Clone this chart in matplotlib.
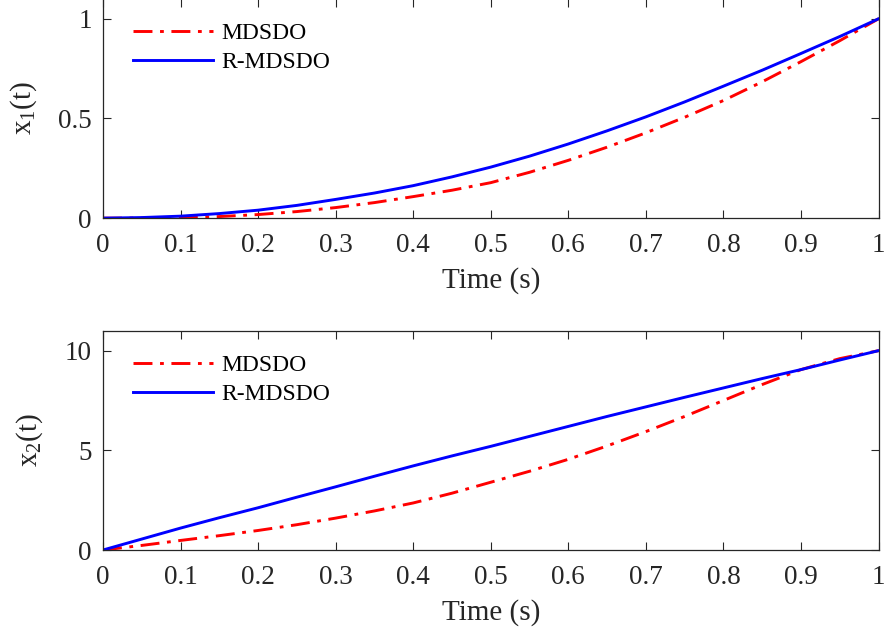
import numpy as np
import matplotlib
matplotlib.use("Agg")
import matplotlib.pyplot as plt

plt.rcParams['font.family'] = ['Liberation Serif', 'DejaVu Serif']
plt.rcParams['mathtext.fontset'] = 'custom'
plt.rcParams['mathtext.rm'] = 'Liberation Serif'
plt.rcParams['mathtext.it'] = 'Liberation Serif'
plt.rcParams['mathtext.default'] = 'regular'

# time grid (s)
t = np.linspace(0, 1, 21)

# x1(t)
x1_mdsdo = [0, 0.0005, 0.002, 0.008, 0.018, 0.033, 0.053, 0.078, 0.108, 0.140,
            0.178, 0.230, 0.290, 0.356, 0.428, 0.506, 0.590, 0.684, 0.785, 0.890, 1.0]
x1_rmdsdo = [0, 0.003, 0.010, 0.023, 0.040, 0.064, 0.094, 0.126, 0.163, 0.207,
             0.256, 0.311, 0.372, 0.438, 0.508, 0.583, 0.662, 0.742, 0.826, 0.911, 1.0]

# x2(t)
x2_mdsdo = [0, 0.23, 0.48, 0.72, 0.98, 1.27, 1.60, 1.96, 2.36, 2.85,
            3.40, 3.95, 4.55, 5.22, 5.94, 6.70, 7.50, 8.30, 9.05, 9.60, 10.0]
x2_rmdsdo = [0, 0.55, 1.10, 1.62, 2.12, 2.65, 3.17, 3.70, 4.22, 4.72,
             5.20, 5.70, 6.20, 6.70, 7.18, 7.66, 8.13, 8.60, 9.05, 9.53, 10.0]

xticks = np.round(np.arange(0, 1.01, 0.1), 1)
xticklabels = ['0', '0.1', '0.2', '0.3', '0.4', '0.5', '0.6', '0.7', '0.8', '0.9', '1']

fig = plt.figure(figsize=(8.84, 6.36), dpi=100)
ax1 = fig.add_axes([0.1165, 0.657, 0.8773, 0.3448])
ax2 = fig.add_axes([0.1165, 0.1352, 0.8773, 0.3448])

axcol = '#262626'
for ax, y_md, y_rm, ylim, yticks, ylab in [
        (ax1, x1_mdsdo, x1_rmdsdo, (0, 1.1), [0, 0.5, 1], r'x$_1$(t)'),
        (ax2, x2_mdsdo, x2_rmdsdo, (0, 11), [0, 5, 10], r'x$_2$(t)')]:
    ax.plot(t, y_md, color='red', lw=2.1, dashes=(6.5, 2.6, 1.3, 2.6), label='MDSDO')
    ax.plot(t, y_rm, color='blue', lw=2.1, label='R-MDSDO')
    ax.set_xlim(0, 1)
    ax.set_ylim(*ylim)
    ax.set_xticks(xticks)
    ax.set_xticklabels(xticklabels)
    ax.set_yticks(yticks)
    ax.set_yticklabels([('%g' % v) for v in yticks])
    ax.tick_params(direction='in', top=True, right=True, length=6, width=0.8,
                   colors=axcol, labelsize=19.5)
    ax.tick_params(axis='x', pad=11)
    ax.tick_params(axis='y', pad=8)
    for s in ax.spines.values():
        s.set_color(axcol)
        s.set_linewidth(0.9)
    ax.set_xlabel('Time (s)', fontsize=21, color=axcol, labelpad=6)
    ax.set_ylabel(ylab, fontsize=21, color=axcol, labelpad=14)
    ax.legend(loc='upper left', bbox_to_anchor=(0.02, 0.955), frameon=False,
              fontsize=17, handlelength=3.4, handletextpad=0.35, labelspacing=0.3,
              borderaxespad=0.2)

fig.savefig('out.png', dpi=100)
